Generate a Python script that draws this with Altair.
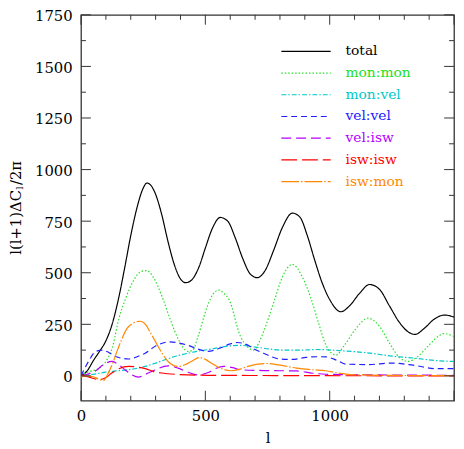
import altair as alt
import pandas as pd

# ---- data ----
total_l = [0, 25, 50, 75, 100, 125, 150, 175, 200, 225, 250, 265, 280, 300, 325, 350, 375, 400, 420, 440, 475, 500, 530, 560, 590, 620, 650, 680, 708, 740, 775, 810, 850, 880, 910, 940, 970, 1000, 1045, 1080, 1120, 1160, 1200, 1240, 1280, 1320, 1343, 1380, 1420, 1462, 1500]
total_v = [0, 25, 75, 120, 170, 250, 370, 520, 680, 815, 910, 935, 925, 880, 780, 650, 540, 470, 452, 460, 530, 620, 720, 768, 750, 670, 570, 495, 476, 510, 610, 720, 789, 770, 680, 560, 450, 370, 311, 340, 400, 443, 420, 340, 260, 210, 201, 230, 275, 295, 285]

monmon_l = [0, 30, 70, 100, 125, 152, 178, 210, 240, 263, 290, 330, 360, 390, 430, 450, 470, 509, 530, 555, 575, 595, 640, 670, 694, 715, 734, 779, 810, 850, 890, 926, 958, 985, 1025, 1060, 1100, 1154, 1200, 1240, 1280, 1316, 1350, 1400, 1440, 1462, 1500]
monmon_v = [0, 20, 35, 70, 133, 276, 371, 460, 505, 511, 480, 371, 270, 181, 119, 125, 190, 340, 395, 416, 400, 371, 195, 140, 125, 160, 214, 371, 480, 541, 480, 371, 245, 149, 101, 150, 220, 280, 240, 160, 90, 70, 90, 150, 195, 205, 190]

monvel_l = [0, 50, 100, 150, 200, 258, 300, 337, 380, 430, 470, 509, 575, 640, 700, 760, 800, 880, 950, 1045, 1150, 1250, 1350, 1420, 1500]
monvel_v = [0, 8, 18, 25, 32, 46, 62, 78, 95, 110, 120, 127, 142, 148, 140, 130, 125, 125, 128, 122, 112, 96, 85, 75, 70]

velvel_l = [0, 30, 59, 85, 110, 139, 192, 230, 258, 300, 357, 400, 430, 470, 509, 560, 600, 628, 660, 700, 734, 800, 850, 906, 950, 985, 1030, 1065, 1154, 1250, 1336, 1428, 1500]
velvel_v = [0, 70, 118, 125, 115, 94, 82, 95, 110, 145, 165, 158, 148, 130, 119, 135, 155, 162, 155, 128, 110, 82, 80, 90, 93, 92, 75, 57, 55, 62, 52, 35, 35]

velisw_l = [0, 30, 59, 90, 125, 150, 178, 205, 231, 260, 297, 350, 390, 430, 470, 509, 540, 575, 610, 640, 734, 866, 932, 985, 1100, 1300, 1500]
velisw_v = [0, 10, 25, 55, 70, 55, 29, 5, -6, 8, 29, 49, 38, 18, 5, 15, 35, 46, 40, 30, 26, 24, 13, 8, 6, 4, 3]

iswisw_l = [0, 30, 73, 100, 125, 152, 192, 230, 258, 290, 324, 390, 509, 700, 1000, 1500]
iswisw_v = [5, -5, -18, -8, 15, 35, 46, 42, 35, 22, 14, 7, 3, 2, 1, 0]

iswmon_l = [0, 20, 46, 70, 91, 108, 125, 145, 165, 185, 204, 238, 260, 277, 300, 317, 350, 390, 420, 443, 476, 500, 523, 560, 602, 640, 668, 710, 747, 800, 866, 930, 985, 1030, 1065, 1150, 1300, 1500]
iswmon_v = [-5, 0, -3, -15, -22, 10, 54, 120, 181, 230, 252, 265, 248, 214, 165, 128, 70, 46, 55, 70, 89, 80, 62, 38, 25, 33, 45, 57, 60, 52, 38, 30, 25, 15, 9, 4, 2, 1]

names = ["total", "mon:mon", "mon:vel", "vel:vel", "vel:isw", "isw:isw", "isw:mon"]
colors = ["#000000", "#22e022", "#00c8c8", "#2020ff", "#b400ff", "#ff0000", "#ff8800"]
dashes = [[1, 0], [1.5, 2], [5, 2, 1.5, 2], [6, 4], [10, 5], [16, 5], [18, 2, 1.5, 2]]

x_major = [0, 500, 1000, 1500]
x_minor = [100, 200, 300, 400, 600, 700, 800, 900, 1100, 1200, 1300, 1400]
y_major = [0, 250, 500, 750, 1000, 1250, 1500, 1750]
y_minor = [125, 375, 625, 875, 1125, 1375, 1625]

# y-axis title pieces: main text, subscript, tail
ytitle_main = "l(l+1)ΔC"
ytitle_sub = "l"
ytitle_tail = "/2π"

series = [(total_l, total_v), (monmon_l, monmon_v), (monvel_l, monvel_v), (velvel_l, velvel_v),
          (velisw_l, velisw_v), (iswisw_l, iswisw_v), (iswmon_l, iswmon_v)]
rows = []
for name, (ls, vs) in zip(names, series):
    for l, v in zip(ls, vs):
        rows.append({"series": name, "l": l, "v": v})
df = pd.DataFrame(rows)

W, H = 378, 391
FONT = "DejaVu Serif"
FRAME = "#333333"

xs = alt.Scale(domain=[0, 1500], nice=False, zero=False)
ys = alt.Scale(domain=[-120, 1750], nice=False, zero=False)

legend = alt.Legend(
    title=None, orient="none", legendX=202, legendY=30, padding=0,
    symbolType="stroke", symbolSize=2500, symbolStrokeWidth=1.2, clipHeight=14,
    rowPadding=8, labelOffset=14, labelFont=FONT, labelFontSize=14,
    labelColor={"expr": "scale('color', datum.value)"},
)

lines = alt.Chart(df).mark_line(strokeWidth=1.2, interpolate="monotone", clip=True).encode(
    x=alt.X("l:Q", scale=xs, title="l",
            axis=alt.Axis(values=x_major[:-1], format="d", ticks=False, tickSize=0, domain=False, grid=False,
                          labelFlush=False, labelPadding=8, titlePadding=7)),
    y=alt.Y("v:Q", scale=ys, title=None,
            axis=alt.Axis(values=y_major, format="d", ticks=False, tickSize=0, domain=False, grid=False,
                          labelFlush=False, labelPadding=9, labelOffset=1)),
    color=alt.Color("series:N", scale=alt.Scale(domain=names, range=colors), sort=names, legend=legend),
    strokeDash=alt.StrokeDash("series:N", scale=alt.Scale(domain=names, range=dashes), sort=names, legend=legend),
    detail="series:N",
)

def xticks(vals, length):
    d = pd.DataFrame({"t": vals})
    bot = alt.Chart(d).mark_rule(color=FRAME, strokeWidth=1).encode(
        x=alt.X("t:Q", scale=xs), y=alt.value(H), y2=alt.value(H - length))
    top = alt.Chart(d).mark_rule(color=FRAME, strokeWidth=1).encode(
        x=alt.X("t:Q", scale=xs), y=alt.value(0), y2=alt.value(length))
    return [bot, top]

def yticks(vals, length):
    d = pd.DataFrame({"t": vals})
    left = alt.Chart(d).mark_rule(color=FRAME, strokeWidth=1).encode(
        y=alt.Y("t:Q", scale=ys), x=alt.value(0), x2=alt.value(length))
    right = alt.Chart(d).mark_rule(color=FRAME, strokeWidth=1).encode(
        y=alt.Y("t:Q", scale=ys), x=alt.value(W), x2=alt.value(W - length))
    return [left, right]

ticks = xticks(x_major, 10) + xticks(x_minor, 5) + yticks(y_major, 10) + yticks(y_minor, 5)

# y-axis title built from three text pieces (for the subscript)
tdf = pd.DataFrame({"a": [0]})
ty = 177
tx = -65.5
title_main = alt.Chart(tdf).mark_text(text=ytitle_main, font=FONT, fontSize=15, angle=270,
                                      align="right", baseline="middle", dx=-0.5).encode(
    x=alt.value(tx), y=alt.value(ty))
title_sub = alt.Chart(tdf).mark_text(text=ytitle_sub, font=FONT, fontSize=10, angle=270,
                                     align="left", baseline="middle", dx=0, dy=4).encode(
    x=alt.value(tx), y=alt.value(ty))
title_tail = alt.Chart(tdf).mark_text(text=ytitle_tail, font=FONT, fontSize=15, angle=270,
                                      align="left", baseline="middle", dx=4.5).encode(
    x=alt.value(tx), y=alt.value(ty))

chart = alt.layer(lines, *ticks, title_main, title_sub, title_tail).properties(
    width=W, height=H,
    padding={"left": 74, "top": 4, "right": 2, "bottom": 42},
    autosize=alt.AutoSizeParams(type="none"),
).configure_view(
    stroke=FRAME, strokeWidth=1.3
).configure_axis(
    labelFont=FONT, labelFontSize=15, labelColor="#000000",
    titleFont=FONT, titleFontSize=15, titleFontWeight="normal", titleColor="#000000",
)

chart.save("out.html", embed_options={"renderer": "svg", "actions": False})
